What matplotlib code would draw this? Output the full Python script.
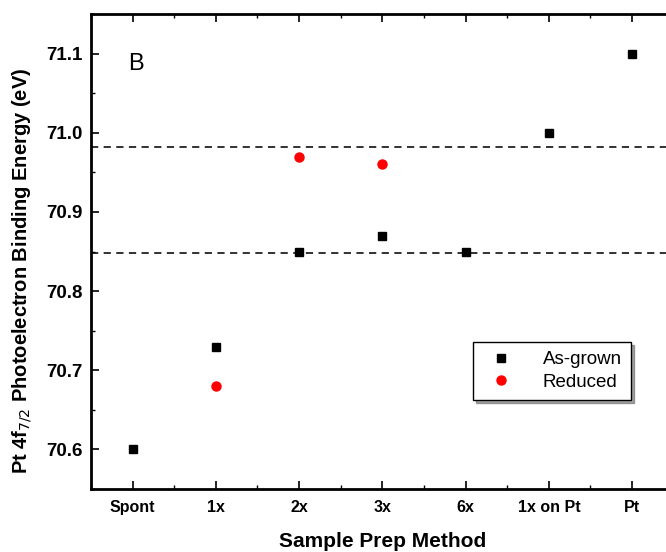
import matplotlib
matplotlib.use("Agg")
import matplotlib.pyplot as plt
from matplotlib.ticker import MultipleLocator, AutoMinorLocator

# data
categories = ["Spont", "1x", "2x", "3x", "6x", "1x on Pt", "Pt"]
as_grown = [70.60, 70.73, 70.85, 70.87, 70.85, 71.00, 71.10]
reduced_cats = ["1x", "2x", "3x"]
reduced = [70.68, 70.97, 70.96]
ref_lines = [70.982, 70.848]

plt.rcParams['font.family'] = ['Liberation Sans', 'DejaVu Sans']

fig = plt.figure(figsize=(6.66, 5.52), dpi=100)
ax = fig.add_axes([0.1366, 0.1141, 0.875, 0.8605])

xs = list(range(len(categories)))
xr = [categories.index(c) for c in reduced_cats]

for y in ref_lines:
    ax.axhline(y, color='#222222', ls=(0, (4, 3)), lw=1.3, zorder=1)

ax.plot(xs, as_grown, 's', color='black', ms=6, label='As-grown', zorder=3)
ax.plot(xr, reduced, 'o', color='red', ms=6.5, label='Reduced', zorder=3)

ax.set_xlim(-0.5, 6.5)
ax.set_ylim(70.55, 71.15)
ax.set_xticks(xs)
ax.set_xticklabels(categories, fontweight='bold', fontsize=11.5)
ax.xaxis.set_minor_locator(AutoMinorLocator(2))
ax.yaxis.set_major_locator(MultipleLocator(0.1))
ax.yaxis.set_minor_locator(MultipleLocator(0.05))
ax.yaxis.set_major_formatter(matplotlib.ticker.FormatStrFormatter('%.1f'))
for lab in ax.get_yticklabels():
    lab.set_fontweight('bold')
    lab.set_fontsize(13.5)

ax.tick_params(which='both', direction='in', top=True, right=True)
ax.tick_params(which='major', length=6, width=1.2)
ax.tick_params(which='minor', length=3, width=1.0)
ax.tick_params(axis='x', pad=8)
ax.tick_params(axis='y', pad=6)
for s in ax.spines.values():
    s.set_linewidth(2)

ax.set_xlabel("Sample Prep Method", fontweight='bold', fontsize=15, labelpad=12)
ax.set_ylabel(r"Pt 4f$_{7/2}$ Photoelectron Binding Energy (eV)",
              fontweight='bold', fontsize=14.5)
ax.yaxis.set_label_coords(-0.098, 0.459)

ax.text(0.063, 0.895, "B", transform=ax.transAxes, fontsize=17, va='center')

leg = ax.legend(loc='upper left', bbox_to_anchor=(0.656, 0.31), fontsize=13.5,
                frameon=True, fancybox=False, shadow=True, handletextpad=1.2,
                borderpad=0.5, borderaxespad=0, labelspacing=0.3)
leg.get_frame().set_edgecolor('black')
leg.get_frame().set_linewidth(1)

fig.savefig("out.png", dpi=100)
